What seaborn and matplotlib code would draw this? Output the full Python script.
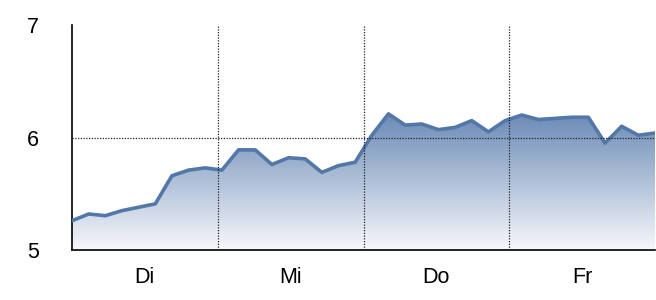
import numpy as np
import pandas as pd
import matplotlib
matplotlib.use("Agg")
import matplotlib.pyplot as plt
import seaborn as sns
from matplotlib.colors import LinearSegmentedColormap

days = ["Di", "Mi", "Do", "Fr"]
yticks = [5, 6, 7]
values = [5.26, 5.32, 5.305, 5.35, 5.38, 5.41, 5.66, 5.71, 5.73, 5.71,
          5.89, 5.89, 5.76, 5.82, 5.81, 5.69, 5.75, 5.78, 6.02, 6.21,
          6.11, 6.12, 6.07, 6.09, 6.15, 6.05, 6.15, 6.20, 6.16, 6.17,
          6.18, 6.18, 5.95, 6.10, 6.02, 6.04]

n = len(values)
x = np.arange(n) * (len(days) / (n - 1))
df = pd.DataFrame({"x": x, "y": values})

sns.set_theme(style="white")
plt.rcParams['font.family'] = ['Liberation Sans', 'DejaVu Sans']

fig = plt.figure(figsize=(6.56, 3.0), dpi=100)
ax = fig.add_axes([72/656, 50/300, (655-72)/656, 225/300])

ax.set_xlim(0, len(days))
ax.set_ylim(5, 7)

# gradient fill under the line
cmap = LinearSegmentedColormap.from_list("g", ["#f7f8fb", "#6a8ab6"])
grad = np.linspace(0, 1, 256).reshape(-1, 1)
ymax = max(values)
im = ax.imshow(grad, aspect="auto", cmap=cmap, origin="lower",
               extent=[0, len(days), 5, ymax], zorder=1)
poly = ax.fill_between(df["x"], 5, df["y"], color="none", lw=0)
path = poly.get_paths()[0]
im.set_clip_path(path, transform=ax.transData)

sns.lineplot(data=df, x="x", y="y", ax=ax, color="#5277a8", lw=2.6, zorder=3)

# grid lines
for d in range(1, len(days)):
    ax.axvline(d, color="#222222", lw=0.9, ls=(0, (1, 1.2)), zorder=4)
ax.axhline(6, color="#222222", lw=0.9, ls=(0, (1, 1.2)), zorder=4)

ax.set_yticks(yticks)
ax.set_yticklabels([str(t) for t in yticks], fontsize=15.5)
ax.set_xticks(np.arange(len(days)) + 0.5)
ax.set_xticklabels(days, fontsize=15.5)
ax.tick_params(axis="both", length=0, colors="black")
ax.tick_params(axis="y", pad=24)
ax.tick_params(axis="x", pad=12)
ax.set_xlabel("")
ax.set_ylabel("")

for s in ["top", "right"]:
    ax.spines[s].set_visible(False)
for s in ["left", "bottom"]:
    ax.spines[s].set_color("black")
    ax.spines[s].set_linewidth(1.2)

fig.savefig("out.png", dpi=100, facecolor="white")
